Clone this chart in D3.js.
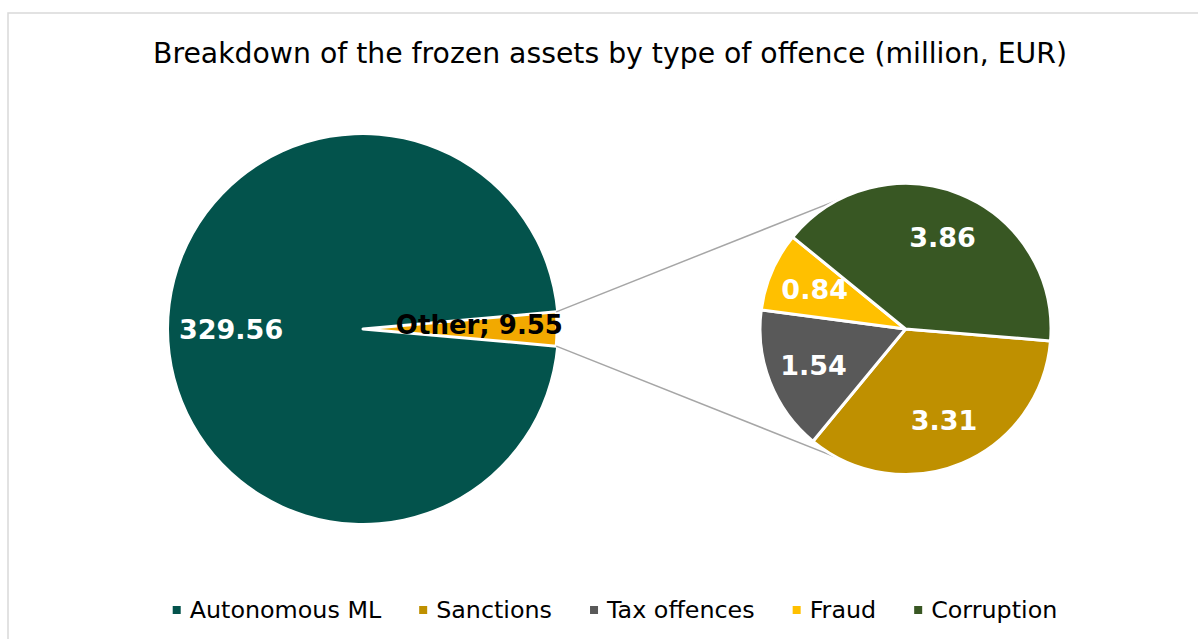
<!DOCTYPE html>
<meta charset="utf-8">
<style>
    body { margin: 0; background: #fff; }
    text { font-family: "DejaVu Sans", Verdana, sans-serif; }
    .slice { stroke: #fff; stroke-linejoin: round; }
    .connector { stroke: #a6a6a6; stroke-width: 1.5; fill: none; }
    .label { font-weight: bold; font-size: 27px; text-anchor: middle; dominant-baseline: central; }
</style>
<svg width="1198" height="639"></svg>
<script src="https://d3js.org/d3.v7.min.js"></script>
<script>

    // values (million EUR)
    var mainNames = ["Autonomous ML", "Other"],
        mainValues = [329.56, 9.55];

    var otherNames = ["Sanctions", "Tax offences", "Fraud", "Corruption"],
        otherValues = [3.31, 1.54, 0.84, 3.86];

    var legendNames = ["Autonomous ML", "Sanctions", "Tax offences", "Fraud", "Corruption"];

    var title = "Breakdown of the frozen assets by type of offence (million, EUR)";

    var colors = {
        "Autonomous ML": "#03534c",
        "Other": "#f2a900",
        "Sanctions": "#bf9000",
        "Tax offences": "#595959",
        "Fraud": "#ffc000",
        "Corruption": "#385723"
    };

    var svg = d3.select("svg"),
        width = +svg.attr("width"),
        height = +svg.attr("height");

    // chart frame
    svg.append("rect")
        .attr("x", 8).attr("y", 13)
        .attr("width", width + 20).attr("height", height + 20)
        .attr("fill", "#fff")
        .attr("stroke", "#d9d9d9")
        .attr("stroke-width", 1.5);

    svg.append("text")
        .attr("x", 610).attr("y", 63)
        .attr("text-anchor", "middle")
        .attr("font-size", 28.3)
        .attr("fill", "#000")
        .text(title);

    // main pie
    var c1 = [363, 329], r1 = 194;
    var total = d3.sum(mainValues);
    var otherSpan = 2 * Math.PI * mainValues[1] / total;

    var pie1 = d3.pie().sort(null)
        .startAngle(Math.PI / 2 + otherSpan / 2)
        .endAngle(Math.PI / 2 + otherSpan / 2 + 2 * Math.PI);

    var arc1 = d3.arc().innerRadius(0).outerRadius(r1);
    var labelArc1 = d3.arc().innerRadius(r1 * 0.68).outerRadius(r1 * 0.68);

    var mainData = pie1(mainValues);

    var g1 = svg.append("g").attr("transform", "translate(" + c1 + ")");

    g1.selectAll("path")
        .data(mainData)
        .enter().append("path")
        .attr("class", "slice")
        .attr("d", arc1)
        .attr("fill", function(d, i) { return colors[mainNames[i]]; })
        .attr("stroke-width", function(d, i) { return i === 0 ? 0 : 3; });

    // secondary pie
    var c2 = [905.5, 329], r2 = 145.5;
    var pie2 = d3.pie().sort(null)
        .startAngle(94.7 * Math.PI / 180)
        .endAngle(94.7 * Math.PI / 180 + 2 * Math.PI);

    var arc2 = d3.arc().innerRadius(0).outerRadius(r2);
    var labelArc2 = d3.arc().innerRadius(r2 * 0.68).outerRadius(r2 * 0.68);

    // connector lines: ends of the "Other" arc to the secondary pie
    var a0 = Math.PI / 2 - otherSpan / 2,
        a1 = Math.PI / 2 + otherSpan / 2,
        spread = 63 * Math.PI / 180;
    function pt(c, r, a) { return [c[0] + r * Math.sin(a), c[1] - r * Math.cos(a)]; }

    svg.selectAll("line.connector")
        .data([[pt(c1, r1, a0), pt(c2, r2, 1.5 * Math.PI + spread)],
               [pt(c1, r1, a1), pt(c2, r2, 1.5 * Math.PI - spread)]])
        .enter().append("line")
        .attr("class", "connector")
        .attr("x1", function(d) { return d[0][0]; })
        .attr("y1", function(d) { return d[0][1]; })
        .attr("x2", function(d) { return d[1][0]; })
        .attr("y2", function(d) { return d[1][1]; });

    var otherData = pie2(otherValues);
    var g2 = svg.append("g").attr("transform", "translate(" + c2 + ")");

    g2.selectAll("path")
        .data(otherData)
        .enter().append("path")
        .attr("class", "slice")
        .attr("d", arc2)
        .attr("fill", function(d, i) { return colors[otherNames[i]]; })
        .attr("stroke-width", 3);

    g2.selectAll("text")
        .data(otherData)
        .enter().append("text")
        .attr("class", "label")
        .attr("fill", "#fff")
        .attr("transform", function(d) { return "translate(" + labelArc2.centroid(d) + ")"; })
        .text(function(d) { return d3.format(".2f")(d.value); });

    // main pie labels
    g1.append("text")
        .attr("class", "label")
        .attr("fill", "#fff")
        .attr("transform", "translate(" + labelArc1.centroid(mainData[0]) + ")")
        .text(d3.format(".2f")(mainValues[0]));

    var otherArcLabel = d3.arc().innerRadius(r1 * 0.6).outerRadius(r1 * 0.6);
    var op = otherArcLabel.centroid(mainData[1]);
    g1.append("text")
        .attr("class", "label")
        .attr("font-size", 26)
        .style("font-size", "26px")
        .attr("fill", "#000")
        .attr("x", op[0]).attr("y", op[1] - 4)
        .text(mainNames[1] + "; " + d3.format(".2f")(mainValues[1]));

    // legend
    var legend = svg.append("g");
    var items = legend.selectAll("g")
        .data(legendNames)
        .enter().append("g");

    items.append("rect")
        .attr("width", 8).attr("height", 8)
        .attr("y", 606)
        .attr("fill", function(d) { return colors[d]; });

    items.append("text")
        .attr("x", 17).attr("y", 618)
        .attr("font-size", 23.8)
        .attr("fill", "#000")
        .text(function(d) { return d; });

    var x = 0, gap = 38;
    items.each(function() {
        var w = 17 + d3.select(this).select("text").node().getComputedTextLength();
        d3.select(this).attr("transform", "translate(" + x + ",0)");
        x += w + gap;
    });
    var legendWidth = x - gap;
    legend.attr("transform", "translate(" + (615 - legendWidth / 2) + ",0)");

</script>
